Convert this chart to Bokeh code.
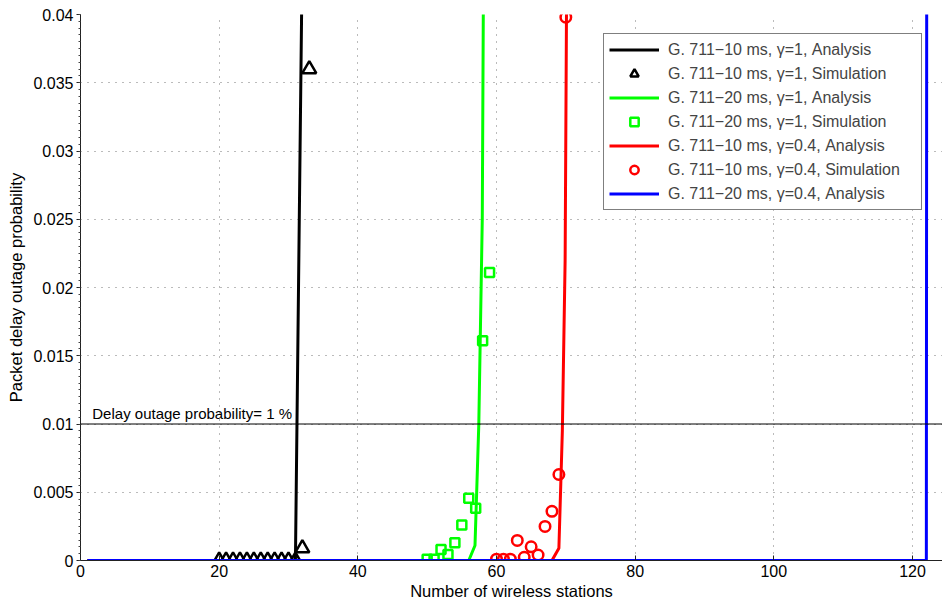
from bokeh.plotting import figure
from bokeh.models import Legend, LegendItem, FixedTicker, Label, Span
from bokeh.embed import file_html
from bokeh.resources import INLINE

# ---- data ----
black_an_x = [1, 31, 32]
black_an_y = [0, 0, 0.045]

black_sim_x = [20, 21, 22, 23, 24, 25, 26, 27, 28, 29, 30, 31, 32, 33]
black_sim_y = [0, 0, 0, 0, 0, 0, 0, 0, 0, 0, 0, 0, 0.0009, 0.036]

green_an_x = [1, 56, 56.9, 57.45, 57.95, 58.1]
green_an_y = [0, 0, 0.0011, 0.01, 0.025, 0.0405]

green_sim_x = [50, 51, 52, 53, 54, 55, 56, 57, 58, 59]
green_sim_y = [0.0001, 0.0001, 0.0008, 0.00044, 0.0013, 0.0026, 0.00456, 0.00383, 0.0161, 0.0211]

red_an_x = [1, 68, 69, 69.5, 69.9, 70.1]
red_an_y = [0, 0, 0.0009, 0.0095, 0.022, 0.0405]

red_sim_x = [60, 61, 62, 63, 64, 65, 66, 67, 68, 69, 70]
red_sim_y = [0.0001, 0.0001, 0.0001, 0.00147, 0.00024, 0.001, 0.0004, 0.0025, 0.0036, 0.0063, 0.0398]

blue_an_x = [1, 122, 122.05]
blue_an_y = [0, 0, 0.0405]

threshold = 0.01
threshold_label = "Delay outage probability= 1 %"

x_ticks = [0, 20, 40, 60, 80, 100, 120]
y_ticks = [0, 0.005, 0.01, 0.015, 0.02, 0.025, 0.03, 0.035, 0.04]
y_tick_labels = ["0", "0.005", "0.01", "0.015", "0.02", "0.025", "0.03", "0.035", "0.04"]

labels = [
    "G. 711\u221210 ms, \u03b3=1, Analysis",
    "G. 711\u221210 ms, \u03b3=1, Simulation",
    "G. 711\u221220 ms, \u03b3=1, Analysis",
    "G. 711\u221220 ms, \u03b3=1, Simulation",
    "G. 711\u221210 ms, \u03b3=0.4, Analysis",
    "G. 711\u221210 ms, \u03b3=0.4, Simulation",
    "G. 711\u221220 ms, \u03b3=0.4, Analysis",
]

FONT = "Liberation Sans"
TICK_FS = "16px"
LABEL_FS = "16.5px"
LEG_FS = "16px"
TEXT_FS = "15px"

p = figure(width=942, height=605, x_range=(0, 124.33), y_range=(0, 0.04),
           output_backend="svg", toolbar_location=None,
           min_border_left=80, min_border_right=0, min_border_top=14, min_border_bottom=45)
p.outline_line_color = None
p.background_fill_color = "white"
p.border_fill_color = "white"

# axes
p.xaxis.ticker = FixedTicker(ticks=x_ticks, minor_ticks=[])
minor = [round(i * 0.0005, 6) for i in range(0, 81)]
p.yaxis.ticker = FixedTicker(ticks=y_ticks, minor_ticks=minor)
p.yaxis.major_label_overrides = {t: l for t, l in zip(y_ticks, y_tick_labels)}

for ax in (p.xaxis[0], p.yaxis[0]):
    ax.axis_line_color = "#222222"
    ax.major_tick_line_color = "#222222"
    ax.minor_tick_line_color = "#444444"
    ax.major_label_text_font = FONT
    ax.major_label_text_font_size = TICK_FS
    ax.major_label_text_color = "black"
    ax.axis_label_text_font = FONT
    ax.axis_label_text_font_size = LABEL_FS
    ax.axis_label_text_font_style = "normal"
    ax.axis_label_text_color = "black"

p.xaxis.axis_label = "Number of wireless stations"
p.yaxis.axis_label = "Packet delay outage probability"
p.xaxis.major_tick_in = 5
p.xaxis.major_tick_out = 0
p.xaxis.major_label_standoff = 4
p.xaxis.axis_label_standoff = 2
p.yaxis.major_tick_in = 0
p.yaxis.major_tick_out = 4
p.yaxis.minor_tick_in = 0
p.yaxis.minor_tick_out = 2
p.yaxis.major_label_standoff = 3
p.yaxis.axis_label_standoff = 5

p.xgrid.grid_line_color = "#777777"
p.xgrid.grid_line_dash = "1 6"
p.ygrid.grid_line_color = "#777777"
p.ygrid.grid_line_dash = "1 6"

# threshold line + label
p.add_layout(Span(location=threshold, dimension="width", line_color="black", line_width=1))
p.add_layout(Label(x=1.7, y=0.0108, text=threshold_label, text_font=FONT,
                   text_font_size=TEXT_FS, text_color="black", text_baseline="alphabetic"))

r1 = p.line(black_an_x, black_an_y, line_color="black", line_width=3)
r2 = p.scatter(black_sim_x, black_sim_y, marker="triangle", size=14, fill_color=None,
               line_color="black", line_width=2.5)
r3 = p.line(green_an_x, green_an_y, line_color="#00ff00", line_width=3)
r4 = p.scatter(green_sim_x, green_sim_y, marker="square", size=9, fill_color=None,
               line_color="#00ff00", line_width=2.5)
r5 = p.line(red_an_x, red_an_y, line_color="#ff0000", line_width=3)
r6 = p.scatter(red_sim_x, red_sim_y, marker="circle", size=10.5, fill_color=None,
               line_color="#ff0000", line_width=2.5)
r7 = p.line(blue_an_x, blue_an_y, line_color="#0000ff", line_width=3)

legend = Legend(items=[LegendItem(label=l, renderers=[r]) for l, r in
                       zip(labels, [r1, r2, r3, r4, r5, r6, r7])],
                location=(523, 350))
legend.label_text_font = FONT
legend.label_text_font_size = LEG_FS
legend.label_height = 21
legend.label_width = 248
legend.glyph_height = 21
legend.glyph_width = 50
legend.spacing = 3
legend.padding = 5
legend.margin = 0
legend.label_standoff = 9
legend.border_line_color = "black"
legend.border_line_width = 1
legend.background_fill_alpha = 1
p.add_layout(legend, "center")

open("out.html", "w").write(file_html(p, INLINE))
